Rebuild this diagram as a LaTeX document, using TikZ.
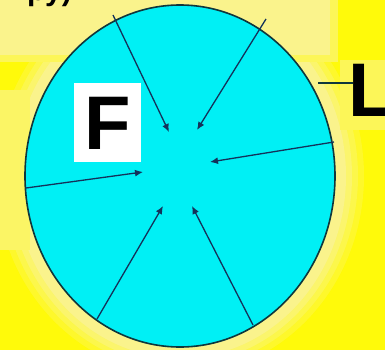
\documentclass[tikz,border=0pt]{standalone}
\usepackage{fontspec}
\setmainfont{Liberation Sans}
\usetikzlibrary{arrows.meta}
\definecolor{bgyellow}{RGB}{255,250,10}
\definecolor{paleyellow}{RGB}{250,243,140}
\definecolor{discfill}{RGB}{0,240,245}
\definecolor{edgecol}{RGB}{15,55,60}
\definecolor{arrcol}{RGB}{20,50,90}
\tikzset{
  ray/.style={draw=arrcol, line width=1.3pt, -{Latex[length=8pt,width=7pt]}},
  bigletter/.style={font=\fontsize{76}{76}\selectfont\bfseries, text=black, inner sep=0pt},
}
\begin{document}
\begin{tikzpicture}[x=1pt,y=-1pt]
  \useasboundingbox (0,0) rectangle (385,350);
  \fill[bgyellow] (0,0) rectangle (385,350);
  % pale halo round the disc and along the top
  \fill[paleyellow!25!bgyellow] (180,176) ellipse [x radius=184, y radius=199];
  \fill[paleyellow!50!bgyellow] (180,176) ellipse [x radius=178, y radius=193];
  \fill[paleyellow!75!bgyellow] (180,176) ellipse [x radius=172, y radius=188];
  \fill[paleyellow] (180,176) ellipse [x radius=166, y radius=182];
  \fill[paleyellow!60!bgyellow] (0,0) rectangle (338,62);
  \fill[paleyellow] (0,0) rectangle (330,55);
  \fill[paleyellow!70!bgyellow] (0,90) rectangle (30,250);
  \fill[paleyellow!60!bgyellow] (340,60) rectangle (385,130);
  % partial caption at top-left (cut off)
  \node[font=\fontsize{30}{30}\selectfont\bfseries, anchor=base east, inner sep=0pt] (cap) at (72,1) {ру)};
  % the disc
  \filldraw[fill=discfill, draw=edgecol, line width=1.6pt] (180,176) ellipse [x radius=155, y radius=171];
  % white F box
  \node[fill=white, minimum width=67pt, minimum height=79pt, inner sep=0pt] (fbox) at (107.5,122.5) {};
  \node[bigletter, anchor=base] (F) at (fbox.center) [yshift=-27pt] {F};
  % label L
  \node[bigletter, anchor=base west] (L) at (348,117) {L};
  \coordinate (lstart) at (318,83);
  \coordinate (lend) at (353,83);
  \draw[edgecol, line width=1.2pt] (lstart) -- (lend);
  % rays: rim points and tips
  \coordinate (r1) at (113,15);  \coordinate (t1) at (169,132);
  \coordinate (r2) at (266,19);  \coordinate (t2) at (197,130);
  \coordinate (r3) at (334,142); \coordinate (t3) at (210,162);
  \coordinate (r4) at (26,188);  \coordinate (t4) at (143,172);
  \coordinate (r5) at (97,319);  \coordinate (t5) at (163,206);
  \coordinate (r6) at (253,325); \coordinate (t6) at (192,206);
  \foreach \i in {1,...,6} { \draw[ray] (r\i) -- (t\i); }
\end{tikzpicture}
\end{document}
